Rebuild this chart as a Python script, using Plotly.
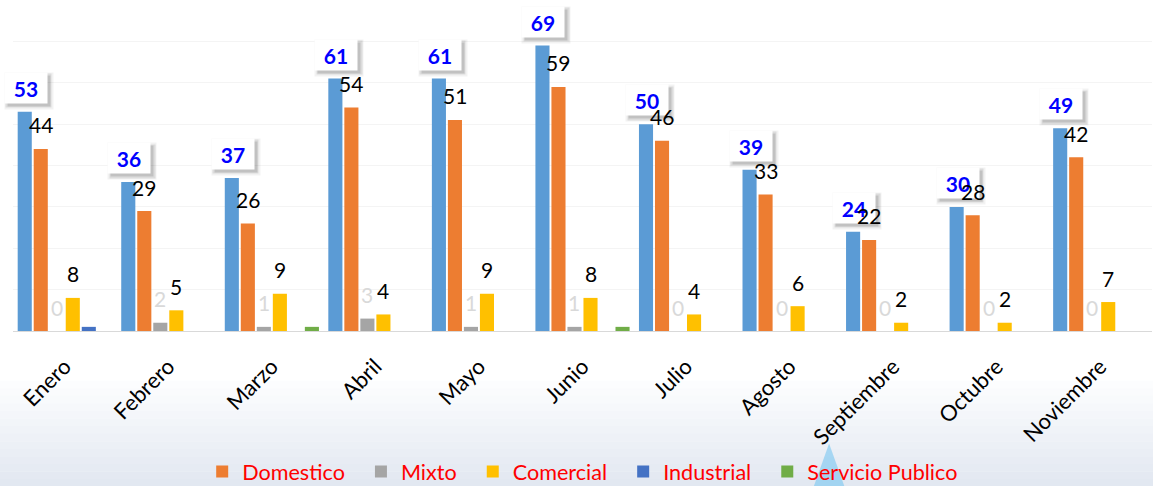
import plotly.graph_objects as go

# Data
months = ["Enero", "Febrero", "Marzo", "Abril", "Mayo", "Junio", "Julio",
          "Agosto", "Septiembre", "Octubre", "Noviembre"]
total = [53, 36, 37, 61, 61, 69, 50, 39, 24, 30, 49]
domestico = [44, 29, 26, 54, 51, 59, 46, 33, 22, 28, 42]
mixto = [0, 2, 1, 3, 1, 1, 0, 0, 0, 0, 0]
comercial = [8, 5, 9, 4, 9, 8, 4, 6, 2, 2, 7]
industrial = [1, 0, 0, 0, 0, 0, 0, 0, 0, 0, 0]
servicio_publico = [0, 0, 1, 0, 0, 1, 0, 0, 0, 0, 0]

font_name = "Lato"
x_idx = list(range(len(months)))
bargap = 0.072
n_series = 6

series = [
    ("Total", total, "#5B9BD5", False),
    ("Domestico", domestico, "#ED7D31", True),
    ("Mixto", mixto, "#A5A5A5", True),
    ("Comercial", comercial, "#FFC000", True),
    ("Industrial", industrial, "#4472C4", True),
    ("Servicio Publico", servicio_publico, "#70AD47", True),
]

fig = go.Figure()
for name, values, colour, in_legend in series:
    # two trailing spaces widen the gap between legend entries
    fig.add_trace(go.Bar(
        x=x_idx, y=values, name=name + "&nbsp;&nbsp;",
        marker_color=colour, marker_line_width=0,
        showlegend=in_legend,
    ))


# centre of bar k inside a group (in x-axis units)
def bar_offset(k):
    slot = (1 - bargap) / n_series
    return -(1 - bargap) / 2 + (k + 0.5) * slot


annotations = []
# total labels: bold blue in a white box with a soft shadow
box_w, box_h, lift = 40, 28, 24
for i, v in enumerate(total):
    x = i + bar_offset(0)
    for alpha, grow, dx in [(0.05, 6, 3), (0.09, 3, 3), (0.12, 0, 3)]:
        annotations.append(dict(
            x=x, y=v, xref="x", yref="y", text=f"<b>{v}</b>", showarrow=False,
            font=dict(family=font_name, size=21, color="rgba(0,0,0,0)"),
            bgcolor=f"rgba(0,0,0,{alpha})",
            width=box_w + grow, height=box_h + grow,
            xshift=1 + dx, yshift=lift - dx, yanchor="middle",
        ))
    annotations.append(dict(
        x=x, y=v, xref="x", yref="y", text=f"<b>{v}</b>", showarrow=False,
        font=dict(family=font_name, size=21, color="#0000FF"),
        bgcolor="white", width=box_w, height=box_h,
        xshift=1, yshift=lift, yanchor="middle",
    ))

# plain value labels for Domestico, Mixto, Comercial
for k, values, colour in [(1, domestico, "black"), (2, mixto, "#D9D9D9"),
                          (3, comercial, "black")]:
    for i, v in enumerate(values):
        annotations.append(dict(
            x=i + bar_offset(k), y=v, xref="x", yref="y", text=str(v),
            showarrow=False, font=dict(family=font_name, size=21, color=colour),
            yshift=24, yanchor="middle",
        ))

# light blue-grey gradient towards the bottom of the picture
shapes = []
bands = 14
top_y, bottom_y = -0.15, -0.47
for b in range(bands):
    t = (b + 1) / bands
    r = int(255 - (255 - 226) * t)
    g = int(255 - (255 - 232) * t)
    bl = int(255 - (255 - 241) * t)
    y0 = top_y + (bottom_y - top_y) * b / bands
    y1 = top_y + (bottom_y - top_y) * (b + 1) / bands
    shapes.append(dict(
        type="rect", xref="paper", yref="paper", x0=-0.05, x1=1.05,
        y0=y1 - 0.001, y1=y0, fillcolor=f"rgb({r},{g},{bl})",
        line_width=0, layer="below",
    ))

# faint water-drop watermark behind the legend
shapes.append(dict(
    type="path", xref="paper", yref="paper", layer="below",
    path="M 0.703 -0.47 L 0.7165 -0.34 L 0.730 -0.47 Z",
    fillcolor="rgba(110,195,240,0.55)", line_width=0,
))

fig.update_layout(
    width=1153, height=486,
    margin=dict(l=13, r=1, t=0, b=155, autoexpand=False),
    paper_bgcolor="white", plot_bgcolor="rgba(0,0,0,0)",
    barmode="group", bargap=bargap, bargroupgap=0.12,
    font=dict(family=font_name, color="black"),
    xaxis=dict(
        range=[-0.5, len(months) - 0.5],
        tickvals=x_idx, ticktext=months, tickangle=-45,
        tickfont=dict(family=font_name, size=22, color="black"),
        ticklabelstandoff=13, automargin=False,
        showline=True, linecolor="#D9D9D9", linewidth=1,
        showgrid=False, zeroline=False, ticks="",
    ),
    yaxis=dict(
        range=[0, 80], dtick=10, showticklabels=False,
        showgrid=True, gridcolor="#F4F4F4", zeroline=False,
    ),
    legend=dict(
        orientation="h", x=0.505, xanchor="center",
        yref="container", y=0.029, yanchor="middle",
        font=dict(family=font_name, size=21.6, color="#FF0000"),
        bgcolor="rgba(0,0,0,0)",
    ),
    annotations=annotations,
    shapes=shapes,
)

# drop the default 8px page margin so the figure sits at the window corner
fig.write_html("out.html", config={"displayModeBar": False},
               post_script="document.body.style.margin='0';")
